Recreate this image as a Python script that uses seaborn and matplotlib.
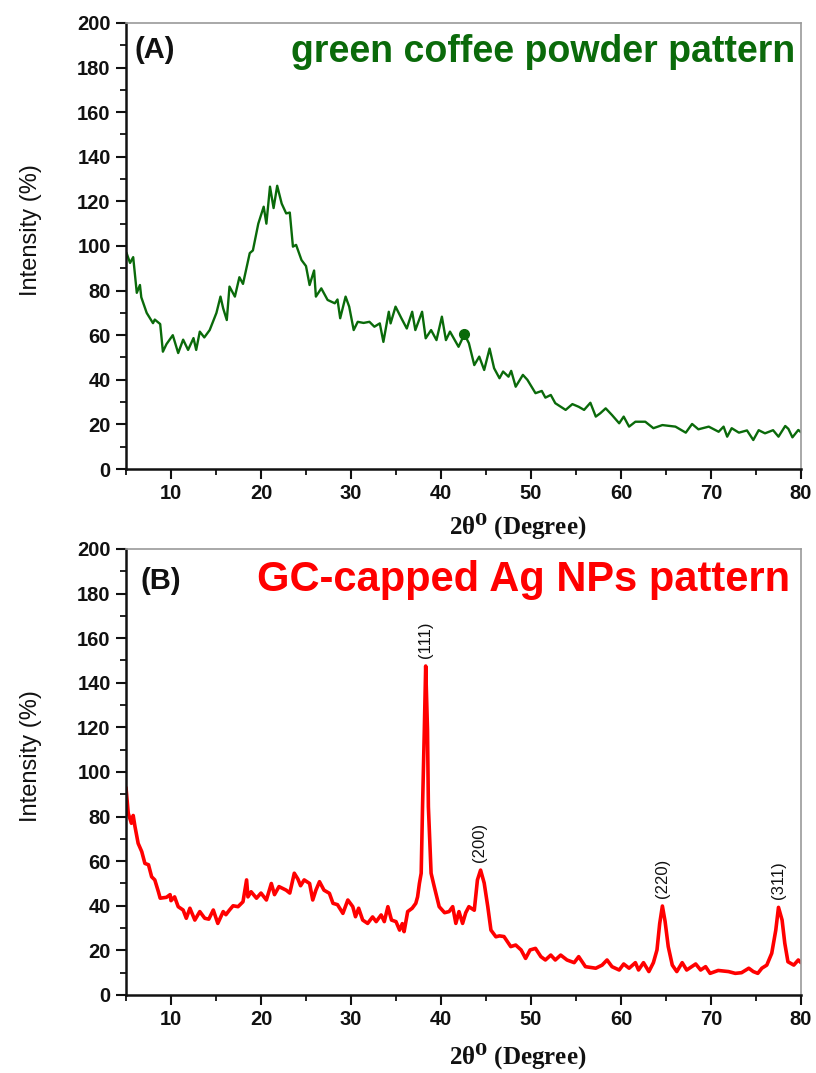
import matplotlib
matplotlib.use("Agg")
import numpy as np
import pandas as pd
import seaborn as sns
import matplotlib.pyplot as plt

# ---------------- data ----------------
green_two_theta = [5.05, 5.45, 5.8, 6.2, 6.55, 6.7, 7.3, 8.0, 8.2, 8.8, 9.1, 9.5, 10.2, 10.8, 11.35,
                   11.9, 12.5, 12.8, 13.2, 13.7, 14.3, 15.05, 15.5, 15.8, 16.2, 16.5, 17.1, 17.6, 18.0,
                   18.75, 19.1, 19.7, 20.3, 20.6, 21.0, 21.4, 21.8, 22.3, 22.8, 23.2, 23.55, 23.9, 24.5,
                   25.0, 25.4, 25.9, 26.1, 26.7, 27.4, 28.2, 28.5, 28.8, 29.4, 29.8, 30.3, 30.75, 31.4,
                   32.05, 32.6, 33.2, 33.6, 34.2, 34.4, 34.95, 35.6, 36.2, 36.8, 37.15, 37.9, 38.3, 38.9,
                   39.5, 40.1, 40.55, 41.0, 41.65, 41.95, 42.6, 43.1, 43.7, 44.25, 44.8, 45.4, 45.9, 46.5,
                   46.9, 47.5, 47.8, 48.3, 49.1, 49.6, 50.5, 51.2, 51.6, 52.2, 52.7, 53.85, 54.6, 55.3,
                   55.9, 56.6, 57.2, 57.7, 58.3, 59.0, 59.8, 60.3, 60.9, 61.6, 62.7, 63.6, 64.6, 66.05,
                   67.2, 67.9, 68.6, 69.75, 70.85, 71.4, 71.8, 72.3, 73.1, 74.0, 74.7, 75.3, 76.0, 76.9,
                   77.5, 78.25, 78.6, 79.05, 79.7, 80.0]
green_intensity = [97, 92.4, 95, 79, 82.5, 77, 70, 65.4, 67, 65, 52.6, 56, 60, 52, 58,
                   53.4, 58.7, 53.4, 61.6, 59, 62.3, 70, 77.3, 72, 66.8, 81.8, 77.3, 86, 83,
                   96.8, 98, 110, 117.6, 110, 126.6, 117, 127, 119, 114.6, 115, 99.7, 100.5, 93.7,
                   91, 82.5, 89, 77.3, 81, 75.8, 74.3, 76, 67.6, 77.3, 72.8, 62.3, 66, 65.5,
                   66, 63.8, 65.3, 57, 70.5, 65.3, 72.8, 67.6, 63, 70.5, 62.3, 70.5, 58.6, 62.3,
                   57.8, 68.3, 57.8, 61.6, 57, 54.8, 60.4, 56.4, 46.6, 50.4, 44.4, 54, 45.2, 40.7,
                   43.7, 41.4, 44, 36.9, 42.2, 40, 34, 35, 32, 33.2, 29.5, 26.5, 29.1, 27.9,
                   26.5, 29.7, 23.5, 25, 27.2, 24.2, 20.5, 23.5, 19, 21.2, 21.2, 18.3, 19.7, 19,
                   16.3, 20.2, 17.8, 19, 16.7, 19, 14.5, 18.3, 16.3, 17.3, 13, 17.4, 16, 17.4,
                   14.5, 19.3, 18, 14.2, 17.5, 16.5]
green_dot_two_theta = [42.6]
green_dot_intensity = [60.4]

red_two_theta = [5.0, 5.25, 5.6, 5.8, 6.0, 6.35, 6.75, 7.1, 7.5, 7.85, 8.2, 8.6, 8.8, 9.5, 9.9, 10.0,
                 10.4, 10.8, 11.35, 11.7, 12.1, 12.65, 13.2, 13.75, 14.2, 14.7, 15.2, 15.8, 16.1, 16.5,
                 16.9, 17.45, 18.0, 18.4, 18.55, 18.9, 19.5, 20.0, 20.6, 21.15, 21.5, 22.0, 22.8, 23.2,
                 23.7, 24.1, 24.4, 24.8, 25.4, 25.75, 26.1, 26.5, 27.0, 27.6, 28.0, 28.5, 29.1, 29.65,
                 30.2, 30.5, 30.85, 31.3, 31.85, 32.4, 32.8, 33.35, 33.7, 34.1, 34.5, 35.0, 35.4, 35.7,
                 35.9, 36.3, 36.8, 37.2, 37.4, 37.6, 37.8, 37.95, 38.15, 38.3, 38.5, 38.6, 38.9, 39.25,
                 39.8, 40.4, 40.9, 41.3, 41.65, 42.0, 42.4, 42.75, 43.1, 43.7, 44.05, 44.4, 44.8, 45.2,
                 45.55, 46.1, 46.5, 47.0, 47.75, 48.3, 48.9, 49.4, 49.9, 50.5, 51.1, 51.6, 52.2, 52.7,
                 53.3, 54.0, 54.8, 55.3, 56.05, 57.2, 57.9, 58.45, 59.0, 59.8, 60.3, 60.9, 61.6, 61.95,
                 62.5, 63.1, 63.6, 64.0, 64.3, 64.6, 64.9, 65.25, 65.7, 66.2, 66.8, 67.3, 68.3, 68.85,
                 69.4, 69.9, 70.8, 71.95, 72.7, 73.4, 74.2, 74.7, 75.2, 75.65, 76.2, 76.75, 77.2, 77.5,
                 77.9, 78.2, 78.55, 79.2, 79.7, 80.0]
red_intensity = [93, 81.5, 77, 80.5, 75.5, 68, 64.3, 59, 58.4, 53, 51.6, 46.3, 43.4, 43.8, 45, 42.3,
                 44, 39.6, 38.1, 34.4, 38.9, 33.6, 37.4, 34.4, 34, 38.1, 32.1, 37.4, 36, 38.1,
                 40, 39.6, 41.8, 51.6, 44, 46.3, 43.4, 45.7, 42.6, 50, 45, 48.6, 47, 45.7,
                 54.6, 52, 49, 51.6, 50, 42.6, 47, 50.8, 47, 45.6, 41.1, 40.5, 36.6, 42.6,
                 39.6, 35.1, 38.9, 33.6, 32.1, 35, 32.9, 35.9, 32.9, 39.6, 33.6, 32.9, 29.1, 32,
                 28.4, 37.4, 38.9, 41.1, 44, 50, 54.6, 84.4, 119, 147.5, 119, 84.4, 54.6, 48.6,
                 39.6, 36.9, 37.4, 39.6, 32.1, 37.4, 32.1, 36.9, 39.6, 38, 51.6, 56, 50.2, 39.6,
                 29.1, 26.1, 26.5, 26.2, 21.7, 22.4, 20.2, 16.4, 20.2, 20.9, 17.2, 15.7, 17.9, 15.7,
                 17.9, 15.7, 14.5, 17.2, 12.7, 12, 13.4, 15.7, 12.7, 11.2, 13.9, 12, 14.5, 11.2,
                 14.5, 10.5, 14.5, 20.2, 32, 39.9, 33, 21.7, 13.4, 10.5, 14.5, 11.2, 13.9, 11.2,
                 12.7, 9.7, 11, 10.5, 9.7, 10, 12, 10.5, 9.7, 12, 13.4, 18.7, 29.1, 39.3,
                 33.6, 23.2, 14.9, 13.4, 15.7, 14.5]

peak_labels = ["(111)", "(200)", "(220)", "(311)"]
peak_two_theta = [38.3, 44.3, 64.6, 77.5]
peak_intensity = [147.5, 56, 39.9, 39.3]

x_ticks = [10, 20, 30, 40, 50, 60, 70, 80]
y_ticks = [0, 20, 40, 60, 80, 100, 120, 140, 160, 180, 200]

green_df = pd.DataFrame({"two_theta": green_two_theta, "intensity": green_intensity})
red_df = pd.DataFrame({"two_theta": red_two_theta, "intensity": red_intensity})

# ---------------- style ----------------
sns.set_style("ticks")
plt.rcParams["font.family"] = ["Liberation Sans", "DejaVu Sans"]
plt.rcParams["mathtext.fontset"] = "dejavuserif"

GREEN = "#0a6a0a"
RED = "#ff0000"

fig = plt.figure(figsize=(8.16, 10.73), dpi=100)
ax1 = fig.add_axes([0.1544, 0.5629, 0.8272, 0.4157])
ax2 = fig.add_axes([0.1544, 0.0727, 0.8272, 0.4157])

sns.lineplot(data=green_df, x="two_theta", y="intensity", ax=ax1, color=GREEN,
             linewidth=1.7, estimator=None, sort=False)
ax1.plot(green_dot_two_theta, green_dot_intensity, "o", color=GREEN, markersize=7)

sns.lineplot(data=red_df, x="two_theta", y="intensity", ax=ax2, color=RED,
             linewidth=2.6, estimator=None, sort=False)


def style_axes(ax, xlabel_y):
    ax.set_xlim(5, 80)
    ax.set_ylim(0, 200)
    ax.set_xticks(x_ticks)
    ax.set_xticklabels([str(t) for t in x_ticks], fontweight="bold")
    ax.set_yticks(y_ticks)
    ax.set_yticklabels([str(t) for t in y_ticks], fontweight="bold")
    ax.xaxis.set_minor_locator(matplotlib.ticker.MultipleLocator(5))
    ax.yaxis.set_minor_locator(matplotlib.ticker.MultipleLocator(10))
    ax.tick_params(axis="both", which="major", direction="out", length=7, width=1.5,
                   labelsize=14.5, pad=4, colors="#111111", top=False, right=False)
    ax.tick_params(axis="both", which="minor", direction="out", length=4, width=1.3,
                   colors="#111111", top=False, right=False)
    for side in ("left", "bottom"):
        ax.spines[side].set_color("#111111")
        ax.spines[side].set_linewidth(1.8)
    for side in ("top", "right"):
        ax.spines[side].set_visible(True)
        ax.spines[side].set_color("#9a9a9a")
        ax.spines[side].set_linewidth(1.2)
    ax.set_ylabel("Intensity (%)", fontsize=17, color="#111111")
    ax.yaxis.set_label_coords(-0.124, 0.535)
    ax.set_xlabel("2θ$^{\\mathbf{0}}$ (Degree)", fontsize=18, fontweight="bold", color="#111111",
                  family=["Liberation Serif", "DejaVu Serif"])
    ax.xaxis.set_label_coords(0.58, xlabel_y)


style_axes(ax1, -0.095)
style_axes(ax2, -0.105)

ax1.text(0.013, 0.921, "(A)", transform=ax1.transAxes, fontsize=21, fontweight="bold",
         color="#111111", ha="left", va="baseline")
ax1.text(0.991, 0.9126, "green coffee powder pattern", transform=ax1.transAxes, fontsize=27,
         fontweight="bold", color=GREEN, ha="right", va="baseline")

ax2.text(0.022, 0.910, "(B)", transform=ax2.transAxes, fontsize=21, fontweight="bold",
         color="#111111", ha="left", va="baseline")
ax2.text(0.984, 0.906, "GC-capped Ag NPs pattern", transform=ax2.transAxes, fontsize=30,
         fontweight="bold", color=RED, ha="right", va="baseline")

for lbl, px, py in zip(peak_labels, peak_two_theta, peak_intensity):
    ax2.annotate(lbl, xy=(px, py), xytext=(0, 6), textcoords="offset points",
                 rotation=90, ha="center", va="bottom", fontsize=12, color="#111111")

fig.savefig("out.png", dpi=100)
